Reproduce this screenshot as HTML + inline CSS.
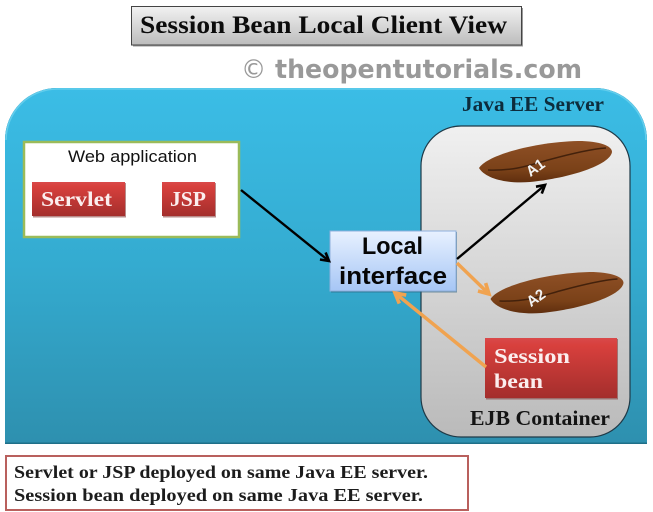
<!DOCTYPE html>
<html><head><meta charset="utf-8"><style>
html,body{margin:0;padding:0;background:#fff}svg{display:block}
text{font-family:"Liberation Serif",serif;font-weight:bold}
.s{font-family:"Liberation Sans",sans-serif}
</style></head><body>
<svg width="653" height="512" viewBox="0 0 653 512" xmlns="http://www.w3.org/2000/svg">
<defs>
<linearGradient id="tt" x1="0" y1="0" x2="0" y2="1"><stop offset="0" stop-color="#f2f2f2"/><stop offset="1" stop-color="#bcbcbc"/></linearGradient>
<linearGradient id="bl" x1="0" y1="0" x2="0" y2="1"><stop offset="0" stop-color="#3bbde6"/><stop offset=".5" stop-color="#34abd0"/><stop offset="1" stop-color="#2e90af"/></linearGradient>
<linearGradient id="ej" x1="0" y1="0" x2="0" y2="1"><stop offset="0" stop-color="#f0f0f0"/><stop offset="1" stop-color="#bababa"/></linearGradient>
<linearGradient id="rd" x1="0" y1="0" x2="0" y2="1"><stop offset="0" stop-color="#d9494a"/><stop offset=".12" stop-color="#d8403d"/><stop offset="1" stop-color="#a42e2c"/></linearGradient>
<linearGradient id="li" x1="0" y1="0" x2="0" y2="1"><stop offset="0" stop-color="#e8f1ff"/><stop offset="1" stop-color="#a6c6f5"/></linearGradient>
<linearGradient id="bn" x1="0" y1="0" x2="0" y2="1"><stop offset="0" stop-color="#8f5026"/><stop offset=".7" stop-color="#7a4118"/><stop offset="1" stop-color="#5f2e0e"/></linearGradient>
<marker id="ab" markerUnits="userSpaceOnUse" markerWidth="14" markerHeight="14" refX="10" refY="6" orient="auto"><path d="M2 1.500 L10 6 L2 10.500" fill="none" stroke="#000" stroke-width="2.600"/></marker>
<marker id="ao" markerUnits="userSpaceOnUse" markerWidth="16" markerHeight="16" refX="12" refY="7" orient="auto"><path d="M2 1.500 L12 7 L2 12.500" fill="none" stroke="#f0a350" stroke-width="3.600"/></marker>
<path id="bean" d="M479 168 C487 155 535 142 578 141 C600 141 612 146 612 152 C610 165 570 178 530 182 C505 184 485 178 479 168 Z"/>
<path id="groove" d="M488 170 C515 171 530 165 548 160 C570 154 590 149 606 148"/>
</defs>

<rect x="133" y="8" width="390" height="38.500" fill="#999"/>
<rect x="131.500" y="6.500" width="390" height="38.500" fill="url(#tt)" stroke="#444" stroke-width="1"/>
<text x="140" y="33" font-size="25" fill="#0c0c0c" textLength="367" lengthAdjust="spacingAndGlyphs">Session Bean Local Client View</text>

<text x="241" y="78" font-size="26" fill="#999" style="font-family:'DejaVu Sans',sans-serif" textLength="341" lengthAdjust="spacingAndGlyphs"><tspan style="font-weight:normal">©</tspan> theopentutorials.com</text>

<path d="M5 444 V140 A52 52 0 0 1 57 88 H595 A52 52 0 0 1 647 140 V444 Z" fill="#1f6f88"/>
<path d="M5 442.500 V140 A52 52 0 0 1 57 88 H595 A52 52 0 0 1 647 140 V442.500 Z" fill="url(#bl)"/>
<path d="M6 140 A51 51 0 0 1 57 89 H595 A51 51 0 0 1 646 140" fill="none" stroke="#63cdec" stroke-width="1.500"/>

<text x="462" y="111" font-size="21" fill="#0d2c3c" textLength="142" lengthAdjust="spacingAndGlyphs">Java EE Server</text>

<rect x="24" y="142" width="215" height="95" fill="#fff" stroke="#9bbb59" stroke-width="2.500"/>
<text class="s" x="68" y="162" font-size="16.500" fill="#111" style="font-weight:normal" textLength="129" lengthAdjust="spacingAndGlyphs">Web application</text>

<rect x="33" y="183" width="93" height="34.500" fill="#7d2c2a" opacity=".55"/>
<rect x="32" y="182" width="93" height="34" fill="url(#rd)"/>
<text x="41" y="206" font-size="21" fill="#fbeeee" textLength="71" lengthAdjust="spacingAndGlyphs">Servlet</text>
<rect x="163" y="183" width="53" height="34.500" fill="#7d2c2a" opacity=".55"/>
<rect x="162" y="182" width="53" height="34" fill="url(#rd)"/>
<text x="170" y="206" font-size="21" fill="#fbeeee" textLength="36" lengthAdjust="spacingAndGlyphs">JSP</text>

<rect x="421" y="126" width="209" height="311" rx="40" ry="40" fill="url(#ej)" stroke="#1f3a48" stroke-width="1.200"/>

<use href="#bean" fill="url(#bn)"/>
<use href="#groove" fill="none" stroke="#43210b" stroke-width="1.500"/>
<text class="s" x="525" y="172" font-size="15" fill="#f2f2f2" transform="rotate(-35 536 166)">A1</text>

<g transform="translate(11.500 131)">
<use href="#bean" fill="url(#bn)"/>
<use href="#groove" fill="none" stroke="#43210b" stroke-width="1.500"/>
</g>
<text class="s" x="526" y="302" font-size="15" fill="#f2f2f2" transform="rotate(-35 537 297)">A2</text>

<rect x="486" y="339" width="132" height="60.500" fill="#7d2c2a" opacity=".55"/>
<rect x="485" y="338" width="132" height="60" fill="url(#rd)"/>
<text x="494" y="363" font-size="21" fill="#fbeeee" textLength="76" lengthAdjust="spacingAndGlyphs">Session</text>
<text x="494" y="388" font-size="21" fill="#fbeeee" textLength="49" lengthAdjust="spacingAndGlyphs">bean</text>

<text x="470" y="425" font-size="21" fill="#141414" textLength="140" lengthAdjust="spacingAndGlyphs">EJB Container</text>

<rect x="331" y="232" width="126" height="60.500" fill="#2b5f7a" opacity=".6"/>
<rect x="330" y="231" width="126" height="60" fill="url(#li)" stroke="#8fb0dc" stroke-width="1"/>
<text class="s" x="362" y="254" font-size="24" fill="#060606" textLength="61" lengthAdjust="spacingAndGlyphs">Local</text>
<text class="s" x="339" y="284" font-size="24" fill="#060606" textLength="108" lengthAdjust="spacingAndGlyphs">interface</text>

<line x1="241" y1="190" x2="329" y2="261" stroke="#000" stroke-width="2.400" marker-end="url(#ab)"/>
<line x1="457" y1="259" x2="545" y2="185" stroke="#000" stroke-width="2.400" marker-end="url(#ab)"/>
<line x1="457" y1="263" x2="489" y2="294" stroke="#f0a350" stroke-width="3.400" marker-end="url(#ao)"/>
<line x1="486" y1="367" x2="395" y2="293" stroke="#f0a350" stroke-width="3.400" marker-end="url(#ao)"/>

<rect x="6" y="456" width="462" height="54" fill="#fff" stroke="#b9605d" stroke-width="2"/>
<text x="14" y="478" font-size="18" fill="#1c1c1c" textLength="414" lengthAdjust="spacingAndGlyphs">Servlet or JSP deployed on same Java EE server.</text>
<text x="14" y="501" font-size="18" fill="#1c1c1c" textLength="409" lengthAdjust="spacingAndGlyphs">Session bean deployed on same Java EE server.</text>
</svg>
</body></html>
